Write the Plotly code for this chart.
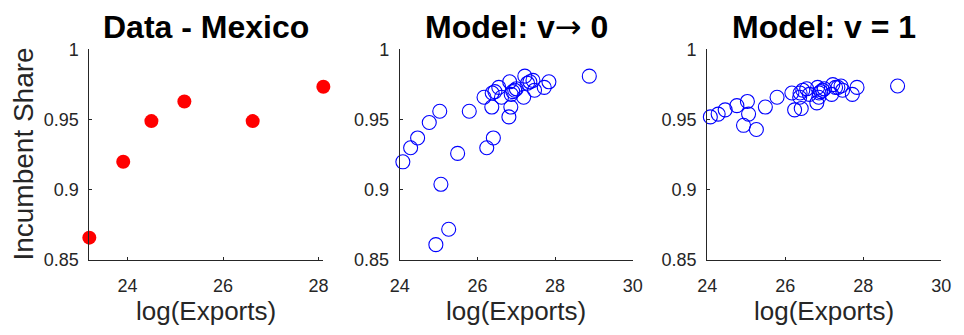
import plotly.graph_objects as go

# ---- data ----
data_x = [23.20, 23.91, 24.50, 25.19, 26.62, 28.10]
data_y = [0.866, 0.920, 0.949, 0.963, 0.949, 0.9735]

model_x = [24.08, 24.28, 24.46, 24.76, 25.03, 25.06, 24.93, 25.26, 25.49, 25.79,
           26.17, 26.24, 26.41, 26.37, 26.38, 26.45, 26.55, 26.62, 26.81, 26.86,
           26.83, 26.87, 26.91, 26.96, 27.00, 27.19, 27.22, 27.29, 27.35, 27.43,
           27.47, 27.72, 27.84, 28.88]
model_v0_y = [0.920, 0.930, 0.937, 0.948, 0.956, 0.904, 0.861, 0.872, 0.926, 0.956,
              0.966, 0.930, 0.937, 0.959, 0.969, 0.970, 0.973, 0.966, 0.952, 0.959,
              0.977, 0.968, 0.970, 0.971, 0.972, 0.966, 0.981, 0.976, 0.977, 0.978,
              0.971, 0.973, 0.977, 0.981]
model_v1_y = [0.952, 0.954, 0.957, 0.960, 0.963, 0.954, 0.946, 0.943, 0.959, 0.966,
              0.969, 0.957, 0.958, 0.966, 0.969, 0.971, 0.972, 0.968, 0.962, 0.966,
              0.973, 0.969, 0.970, 0.971, 0.972, 0.968, 0.975, 0.973, 0.973, 0.974,
              0.971, 0.968, 0.973, 0.974]

titles = ["Data - Mexico",
          "Model: v<span style=\"font-family:'DejaVu Sans';font-weight:normal\">\u2192</span> 0",
          "Model: v = 1"]
x_label = "log(Exports)"
y_label = "Incumbent Share"
y_ticks = [0.85, 0.9, 0.95, 1.0]
y_tick_text = ["0.85", "0.9", "0.95", "1"]
x_ticks = [24, 26, 28, 30]

# ---- layout geometry (pixels in a 964x335 canvas) ----
W, H = 964, 335
doms = [(81, 320), (398, 636), (712, 951)]
top, bottom = 42, 266
ydom = [1 - bottom / H, 1 - top / H]

FONT = "Liberation Sans, Arial, sans-serif"
AX = "#262626"

fig = go.Figure()
fig.add_trace(go.Scatter(x=data_x, y=data_y, mode="markers", cliponaxis=False,
                         marker=dict(color="#ff0000", size=14, line=dict(width=0)),
                         xaxis="x", yaxis="y", showlegend=False))
fig.add_trace(go.Scatter(x=model_x, y=model_v0_y, mode="markers", cliponaxis=False,
                         marker=dict(symbol="circle-open", color="#0000ff", size=14,
                                     line=dict(width=1.1, color="#0000ff")),
                         xaxis="x2", yaxis="y2", showlegend=False))
fig.add_trace(go.Scatter(x=model_x, y=model_v1_y, mode="markers", cliponaxis=False,
                         marker=dict(symbol="circle-open", color="#0000ff", size=14,
                                     line=dict(width=1.1, color="#0000ff")),
                         xaxis="x3", yaxis="y3", showlegend=False))

xranges = [[min(data_x), max(data_x)], [24, 30], [24, 30]]
axis_common = dict(showline=True, linecolor=AX, linewidth=1, mirror=False,
                   showgrid=False, zeroline=False, ticks="inside", ticklen=3,
                   tickcolor=AX, tickfont=dict(family=FONT, size=18, color=AX))
layout = dict(width=W, height=H, margin=dict(l=0, r=0, t=0, b=0),
              paper_bgcolor="white", plot_bgcolor="white", showlegend=False)
for i in range(3):
    sfx = "" if i == 0 else str(i + 1)
    x0, x1 = doms[i]
    layout["xaxis" + sfx] = dict(axis_common, domain=[x0 / W, x1 / W],
                                 range=xranges[i], tickvals=x_ticks,
                                 ticklabelstandoff=9,
                                 anchor="y" + sfx)
    layout["yaxis" + sfx] = dict(axis_common, domain=ydom, range=[0.85, 1.0],
                                 tickvals=y_ticks, ticktext=y_tick_text,
                                 ticklabelstandoff=6,
                                 anchor="x" + sfx)
fig.update_layout(**layout)

ann = []
for i in range(3):
    x0, x1 = doms[i]
    cx = (x0 + x1) / 2 / W
    ann.append(dict(text="<b>" + titles[i] + "</b>", x=cx, y=1 - 18 / H,
                    xref="paper", yref="paper", xanchor="center", yanchor="middle",
                    showarrow=False, font=dict(family=FONT, size=32, color="black")))
    ann.append(dict(text=x_label, x=cx, y=1 - 320 / H,
                    xref="paper", yref="paper", xanchor="center", yanchor="middle",
                    showarrow=False, font=dict(family=FONT, size=26, color=AX)))
ann.append(dict(text=y_label, x=14 / W, y=1 - 153 / H, textangle=-90,
                xref="paper", yref="paper", xanchor="center", yanchor="middle",
                showarrow=False, font=dict(family=FONT, size=28, color=AX)))
fig.update_layout(annotations=ann)

fig.write_html("out.html")
